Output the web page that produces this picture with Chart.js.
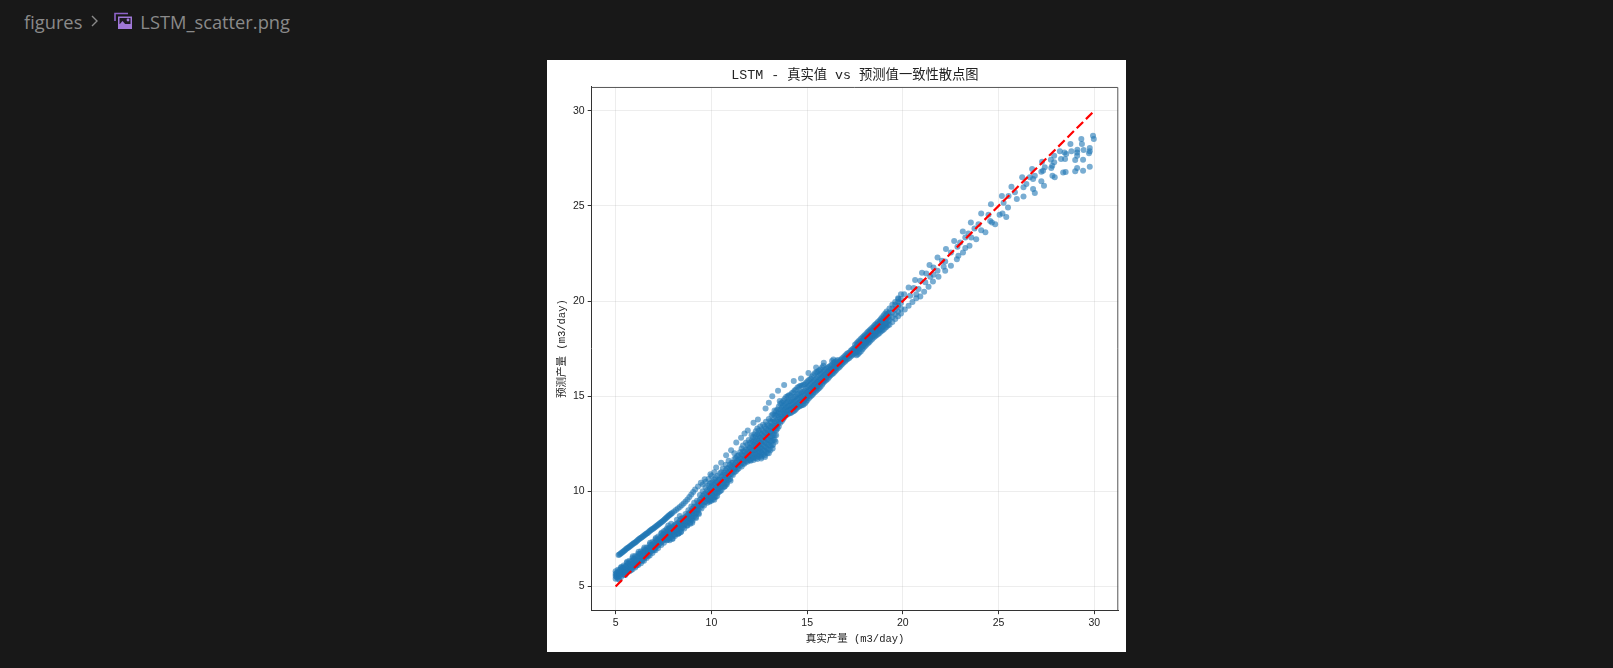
<!DOCTYPE html>
<html>
<head>
<meta charset="utf-8">
<title>LSTM_scatter.png</title>
<script src="https://cdn.jsdelivr.net/npm/chart.js@4"></script>
<style>
    html, body { margin: 0; height: 100%; background: #181818; overflow: hidden; }
    .crumbs { position: absolute; left: 24px; top: 8px; height: 26px; display: flex; align-items: center;
        color: #8a8a8a; font: 18.3px "Open Sans", sans-serif; white-space: nowrap; }
    .crumbs svg { display: block; }
    .sheet { position: absolute; left: 547px; top: 60px; width: 579px; height: 592px; background: #fff; }
</style>
</head>
<body>
<div class="crumbs">
    <span>figures</span>
    <svg width="10" height="14" viewBox="0 0 10 14" style="margin:0 14px 0 8px"><path d="M2 2l5 5-5 5" fill="none" stroke="#8a8a8a" stroke-width="1.4"/></svg>
    <svg width="19" height="18" viewBox="0 0 19 18" style="margin-right:7px">
        <path d="M1 9V1.5h13" fill="none" stroke="#8e63c9" stroke-width="1.6"/>
        <rect x="4" y="4.5" width="14" height="12.5" fill="#a078d8"/>
        <rect x="5.5" y="6" width="11" height="6" fill="#1d1a22"/>
        <circle cx="14" cy="8" r="1.4" fill="#a078d8"/>
        <path d="M5 13l3.5-4 4 4.5z" fill="#a078d8"/>
    </svg>
    <span>LSTM_scatter.png</span>
</div>
<div class="sheet"><canvas id="scatterChart" width="579" height="592"></canvas></div>
<script>
const tickValues = [5, 10, 15, 20, 25, 30]
const idealLine = [5, 30]

// upper straight strand at the low end
const upperActual = [5.15,5.2,5.25,5.3,5.35,5.4,5.45,5.5,5.55,5.6,5.65,5.7,5.75,5.8,5.85,5.9,5.95,6,6.05,6.1,6.15,6.2,6.25,6.3,6.35,6.4,6.45,6.5,6.55,6.6,6.65,6.7,6.75,6.8,6.85,6.9,6.95,7,7.05,7.1,7.15,7.2,7.25,7.3,7.35,7.4,7.45,7.5,7.55,7.6,7.65,7.7,7.75,7.8,7.85,7.9,7.95,8.05,8.15,8.25,8.35,8.45,8.55,8.65,8.75,8.85,8.95,9.05,9.15,9.3,9.45]
const upperPredicted = [6.65,6.68,6.72,6.76,6.8,6.84,6.88,6.92,6.96,7,7.03,7.07,7.11,7.15,7.19,7.23,7.27,7.3,7.34,7.38,7.42,7.46,7.5,7.54,7.57,7.61,7.65,7.69,7.73,7.77,7.8,7.84,7.88,7.92,7.96,8,8.03,8.07,8.11,8.15,8.19,8.23,8.27,8.31,8.35,8.39,8.43,8.47,8.52,8.56,8.61,8.65,8.7,8.74,8.78,8.82,8.86,8.94,9.02,9.1,9.18,9.27,9.36,9.46,9.57,9.7,9.83,9.96,10.1,10.25,10.45]

// arc above the main mass
const arcActual = [9.65,9.95,10.25,10.51,10.77,11.03,11.3,11.55,11.73,11.9,12.2,12.43,12.83,13.0,13.18,13.48,13.57,13.8,14.3,14.68,15.07,15.47,15.87,16.37]
const arcPredicted = [10.63,10.9,11.25,11.5,11.9,12.16,12.56,12.82,13.04,13.2,13.6,13.77,14.35,14.65,15,15.28,14.75,15.58,15.79,15.93,16.22,16.5,16.75,16.92]

// edges of the low band and the round lobes under the ideal line
const edgeActual = [5.2,5.3,5.5,5.6,5.8,5.9,6.1,6.2,6.4,6.5,6.7,6.8,7,7.1,7.4,7.7,7.8,7.95,8.1,8.25,8.3,8.4,8.75,8.9,9,9.2,9.35,9.9,10,10.15,10.3,10.7,10.8,11,12.05,12.2,12.4,12.6,12.8,13,13.2,13.35]
const edgePredicted = [5.35,6.02,5.6,6.3,5.85,6.58,6.1,6.82,6.35,7.05,6.6,7.3,6.9,7.55,7.82,7.45,7.5,7.5,7.65,7.75,7.8,7.85,8.2,8.3,8.35,8.6,8.8,9.45,9.5,9.55,9.75,10.25,10.35,10.55,11.6,11.65,11.7,11.72,11.8,12,12.25,12.6]

// dense band, one column of predictions per actual value
const bandActual = [5.05,5.2,5.35,5.5,5.65,5.8,5.95,6.1,6.25,6.4,6.55,6.7,6.85,7.0,7.15,7.3,7.45,
    7.6,7.75,7.9,8.05,8.2,8.35,8.5,8.65,8.8,8.95,9.1,9.25,9.4,
    9.55,9.7,9.85,10.0,10.15,10.3,10.45,10.6,10.75,10.9,11.05,11.2,11.35,11.5,11.65,11.8,11.95,
    12.1,12.25,12.4,12.55,12.7,12.85,13.0,13.15,13.3,13.45,13.6,13.75,13.9,14.05,14.2,14.35,14.5,14.65,14.8,14.95,
    15.1,15.25,15.4,15.55,15.7,15.85,16.0,16.15,16.3,16.45,16.6,16.75,16.9,17.05,17.2,17.35,17.5,17.65,17.8,17.95,
    18.1,18.25,18.4,18.55,18.7,18.85,19.0,19.15,19.3,19.45,19.6,19.75,19.9]
const bandPredicted = [
    [5.5,5.6,5.7],[5.55,5.7,5.85],[5.65,5.8,5.95],[5.75,5.9,6.05],[5.85,6,6.2],[5.95,6.1,6.3],[6.05,6.25,6.45],[6.15,6.35,6.55],[6.3,6.5,6.7],
    [6.42,6.6,6.8],[6.55,6.72,6.9],[6.7,6.85,7.02],[6.85,7,7.15],[6.98,7.1,7.28],[7.12,7.25,7.42],[7.25,7.4,7.55],[7.4,7.55,7.7],
    [7.5,7.65,7.8,7.95],[7.55,7.7,7.85,8,8.2],[7.6,7.75,7.9,8.05,8.3],[7.72,7.88,8.05,8.2],[7.95,8.1,8.3,8.5],[7.95,8.1,8.25,8.45,8.7],
    [8.1,8.25,8.45,8.6],[8.3,8.45,8.65,8.8],[8.45,8.6,8.8,9],[8.5,8.65,8.8,8.95,9.2],[8.7,8.85,9,9.2,9.4],[8.9,9.05,9.25,9.5],[9.15,9.35,9.55,9.8],
    [9.3,9.5,9.75,10,10.35],[9.45,9.65,9.9,10.2,10.5],[9.55,9.75,10,10.3,10.65],[9.65,9.85,10.05,10.25,10.45,10.8],[9.7,9.9,10.1,10.35,10.6,11],
    [9.9,10.1,10.3,10.5,10.8],[10,10.2,10.4,10.65,10.95],[10.2,10.4,10.6,10.85,11.2],[10.4,10.6,10.85,11.1,11.4],[10.6,10.8,11,11.25,11.6],
    [10.9,11.1,11.3,11.5],[11,11.2,11.4,11.7,12],[11.15,11.35,11.6,11.85],[11.35,11.55,11.75,12.05],[11.45,11.65,11.85,12.1,12.4],
    [11.55,11.75,11.95,12.2,12.55],[11.65,11.85,12.05,12.3,12.7],[11.75,11.95,12.15,12.4,12.65,12.95],[11.8,12,12.2,12.45,12.7,13],
    [11.85,12.05,12.25,12.5,12.75,13,13.3],[11.9,12.1,12.3,12.55,12.8,13.05,13.4],[11.95,12.15,12.4,12.65,12.9,13.15,13.5],
    [12.05,12.3,12.55,12.8,13.05,13.3,13.65],[12.2,12.45,12.7,12.95,13.2,13.45,13.8],[12.4,12.65,12.9,13.15,13.4,13.65,14],
    [12.7,12.95,13.2,13.45,13.7,14,14.25],[13.3,13.5,13.75,14,14.3],[13.6,13.8,14.05,14.3,14.6],[13.8,14,14.25,14.5,14.75],[14,14.2,14.4,14.65,14.95],
    [14.1,14.3,14.5,14.75,15.05],[14.15,14.35,14.55,14.8,15.15],[14.25,14.45,14.7,14.95,15.3],[14.4,14.6,14.85,15.1,15.45],[14.5,14.7,14.95,15.2,15.55],
    [14.55,14.75,15,15.25,15.6],[14.7,14.9,15.15,15.4,15.7],[14.9,15.1,15.3,15.55,15.85],[15.05,15.25,15.45,15.7,16],[15.2,15.4,15.6,15.85,16.2],
    [15.35,15.55,15.75,16,16.3],[15.5,15.7,15.9,16.15,16.4],[15.7,15.85,16.05,16.3,16.6],[15.85,16,16.2,16.45],[16,16.15,16.35,16.55],
    [16.15,16.3,16.45,16.65,16.85],[16.3,16.45,16.6,16.8],[16.45,16.6,16.75,16.9],[16.6,16.75,16.9],[16.75,16.9,17.05],[16.9,17.05,17.2],[17,17.15,17.3],
    [17.15,17.3,17.45],[17.25,17.4,17.55,17.7],[17.2,17.4,17.55,17.7,17.85],[17.35,17.55,17.7,17.85,18],[17.55,17.7,17.85,18,18.15],
    [17.7,17.85,18,18.15,18.3],[17.85,18,18.15,18.3,18.45],[18,18.15,18.3,18.45,18.6],[18.15,18.3,18.45,18.6,18.75],[18.25,18.45,18.6,18.75,18.9],
    [18.4,18.55,18.7,18.9,19.05],[18.5,18.7,18.9,19.05,19.25],[18.65,18.85,19.05,19.25,19.45],[18.75,19,19.2,19.4,19.6],[18.9,19.15,19.4,19.6,19.8],
    [19.05,19.3,19.55,19.8,19.95],[19.2,19.45,19.75,19.95,20.15],[19.35,19.6,19.9,20.1,20.35]
]

// second pass over the same band, between the columns above
const coreActual = [5,5.12,5.28,5.42,5.58,5.72,5.88,6.02,6.18,6.32,6.48,6.62,6.78,6.92,7.08,7.22,7.38,7.52,7.68,7.82,7.98,
    8.12,8.28,8.42,8.58,8.72,8.88,9.02,9.18,9.32,9.48,9.62,9.78,9.92,10.08,10.22,10.38,10.52,10.68,10.82,10.98,
    11.12,11.28,11.42,11.58,11.72,11.88,12.02,12.18,12.32,12.48,12.62,12.78,12.92,13.08,13.22,13.38,13.52,13.68,13.82,13.98,
    14.12,14.28,14.42,14.58,14.72,14.88,15.02,15.18,15.32,15.48,15.62,15.78,15.92,16.08,16.22,16.38,16.52,16.68,16.82,16.98,
    17.12,17.28,17.42,17.58,17.72,17.88,18.02,18.18,18.32,18.48,18.62,18.78,18.92,19.08,19.22]
const corePredicted = [
    [5.4,5.55,5.65,5.8],[5.4,5.5,5.62,5.75,5.88],[5.5,5.62,5.75,5.9,6],[5.6,5.72,5.85,6,6.1],[5.7,5.82,5.95,6.1,6.25],[5.8,5.92,6.05,6.2,6.35],
    [5.9,6.02,6.17,6.35,6.5],[6,6.15,6.3,6.45,6.6],[6.12,6.25,6.42,6.6,6.72],[6.22,6.38,6.55,6.72,6.85],[6.35,6.5,6.67,6.82,6.95],[6.5,6.63,6.78,6.92,7.05],
    [6.62,6.77,6.92,7.05,7.2],[6.75,6.9,7.05,7.2,7.33],[6.9,7.03,7.18,7.33,7.48],[7.02,7.17,7.32,7.47,7.62],[7.18,7.32,7.47,7.62,7.77],[7.3,7.45,7.6,7.75,7.9],
    [7.42,7.55,7.72,7.88,8.05],[7.42,7.6,7.78,7.92,8.1],[7.5,7.68,7.85,8,8.12],[7.75,7.92,8.1,8.25],[7.8,8,8.18,8.35],[7.88,8.05,8.2,8.35,8.55],
    [8.05,8.2,8.38,8.55],[8.2,8.38,8.55,8.72],[8.35,8.52,8.7,8.88],[8.45,8.6,8.78,8.95,9.1],[8.65,8.82,9,9.18],[8.85,9.02,9.2,9.4],[9.1,9.28,9.45,9.65],
    [9.25,9.42,9.62,9.85],[9.4,9.6,9.8,10.05],[9.5,9.7,9.9,10.15,10.4],[9.58,9.78,9.98,10.2,10.5],[9.7,9.95,10.2,10.45,10.7],[9.95,10.15,10.35,10.6],
    [10.05,10.25,10.5,10.75,11],[10.25,10.5,10.72,10.98],[10.45,10.7,10.95,11.2],[10.65,10.9,11.15,11.4],[10.85,11.05,11.25,11.5],[11.05,11.25,11.5,11.75],
    [11.2,11.4,11.65,11.9],[11.3,11.5,11.7,11.95,12.25],[11.45,11.65,11.85,12.1],[11.55,11.75,11.95,12.2,12.45],[11.65,11.85,12.05,12.3,12.55],
    [11.72,11.92,12.12,12.35,12.6,12.85],[11.75,11.95,12.15,12.38,12.62,12.88,13.15],[11.8,12,12.2,12.42,12.65,12.9,13.2],[11.82,12.02,12.25,12.48,12.72,12.98,13.25],
    [11.9,12.12,12.35,12.6,12.85,13.1,13.4],[12,12.22,12.48,12.72,12.98,13.22,13.5],[12.15,12.4,12.65,12.9,13.15,13.4,13.7],[12.45,12.7,12.95,13.2,13.45,13.75,14.05],
    [12.95,13.2,13.45,13.7,14,14.2],[13.4,13.65,13.9,14.15,14.45],[13.7,13.9,14.15,14.4,14.65],[13.9,14.1,14.3,14.55,14.85],[14.05,14.25,14.45,14.7,15],
    [14.1,14.3,14.5,14.75,15.05],[14.2,14.4,14.62,14.88,15.2],[14.32,14.52,14.75,15,15.35],[14.45,14.65,14.9,15.15,15.5],[14.52,14.72,14.95,15.22,15.55],
    [14.62,14.82,15.05,15.3,15.62],[14.8,15,15.22,15.48,15.78],[14.98,15.18,15.38,15.62,15.92],[15.12,15.32,15.52,15.78,16.1],[15.28,15.48,15.68,15.92,16.25],
    [15.42,15.62,15.82,16.08,16.35],[15.6,15.78,15.98,16.22,16.5],[15.78,15.92,16.12,16.38],[15.92,16.08,16.28,16.5],[16.08,16.22,16.4,16.6],[16.22,16.38,16.55,16.75],
    [16.38,16.52,16.68,16.85],[16.52,16.68,16.82],[16.68,16.82,16.98],[16.82,16.98,17.12],[16.95,17.1,17.25],[17.08,17.22,17.38],[17.2,17.35,17.5],
    [17.15,17.32,17.48,17.62,17.78],[17.28,17.48,17.62,17.78,17.92],[17.45,17.62,17.78,17.92,18.08],[17.62,17.78,17.92,18.08,18.22],[17.78,17.92,18.08,18.22,18.38],
    [17.92,18.08,18.22,18.38,18.52],[18.08,18.22,18.38,18.52,18.68],[18.2,18.38,18.52,18.68,18.82],[18.32,18.5,18.65,18.82,18.98],[18.45,18.62,18.8,18.98,19.15],
    [18.6,18.8,19,19.15,19.35],[18.72,18.95,19.15,19.35]
]

// scattered points from 20 upwards
const sparseActual = [20.1,20.3,20.5,20.7,19.77,20.07,20.3,20.38,20.56,20.64,20.7,20.82,20.91,20.91,21,21.11,21.17,21.22,21.34,21.39,21.43,21.57,21.6,21.6,21.81,21.81,21.86,22.04,22.13,22.21,22.21,22.25,22.51,22.51,22.68,22.82,22.85,22.9,22.99,23.13,23.14,23.26,23.26,23.42,23.48,23.55,23.57,23.74,23.83,23.95,24.09,24.09,24.31,24.47,24.56,24.6,24.65,24.82,25.05,25.17,25.2,25.26,25.4,25.49,25.52,
    25.67,25.85,25.95,26.23,26.3,26.3,26.45,26.63,26.75,26.8,26.8,26.89,26.89,27.23,27.23,27.27,27.32,27.37,27.41,27.73,27.75,27.8,27.81,27.9,27.9,27.93,28.2,28.26,28.37,28.44,28.47,28.5,28.53,28.75,28.8,29,29,29.1,29.1,29.1,29.11,29.32,29.35,29.41,29.41,29.44,29.72,29.76,29.76,29.76,29.93,29.97]
const sparsePredicted = [19.55,19.75,19.95,20.15,20.1,20.36,20.71,20.28,20.68,21.1,20.36,20.63,21.06,20.24,21.48,20.49,20.98,21.45,20.75,21.89,21.27,21.03,21.76,21.38,22.29,21.59,21.27,22.11,21.8,22.08,21.59,22.73,22.55,21.85,23.16,22.2,22.85,22.38,23.08,23.65,22.55,23.34,22.78,23.55,22.9,24.13,23.34,23.81,23.25,24.04,24.6,23.72,23.62,24.53,24.21,25.09,24.13,24.04,24.53,25.52,24.6,25.17,24.42,24.91,25.52,
    26.01,25.71,25.36,26.5,25.98,25.49,26.15,26.5,26.94,26.41,25.89,26.59,25.68,26.8,26.29,27.32,26.85,26.06,27.03,27.43,26.99,27.11,26.59,27.64,27.29,26.5,27.87,27.46,26.75,27.81,27.46,26.78,27.73,28.25,27.87,27.41,26.82,27.81,27.64,26.99,27.95,28.51,28.25,27.43,26.85,27.94,27.76,28.04,27.87,27.06,28.69,28.51]

const toPoints = (xs, ys) => xs.map((x, i) => ({x, y: ys[i]}))
const columnPoints = (xs, columns) => xs.flatMap((x, i) => columns[i].map(y => ({x, y})))

const dotStyle = {
    backgroundColor: 'rgba(31,119,180,0.6)',
    borderWidth: 0,
    pointRadius: 3,
    order: 2
}

// matplotlib draws all four spines, chart.js only the two axes
const frame = {
    id: 'frame',
    afterDraw(chart) {
        const {ctx, chartArea: a} = chart
        ctx.save()
        ctx.strokeStyle = '#555'
        ctx.lineWidth = 1
        ctx.beginPath()
        ctx.moveTo(a.left, a.top + 0.5)
        ctx.lineTo(a.right - 0.5, a.top + 0.5)
        ctx.lineTo(a.right - 0.5, a.bottom)
        ctx.stroke()
        ctx.restore()
    }
}

const monoFont = '"Liberation Mono", "Noto Sans CJK SC", monospace'
const axisOptions = (min, max, label, titlePadding, fit) => ({
    type: 'linear',
    min,
    max,
    afterBuildTicks: scale => { scale.ticks = tickValues.map(value => ({value})) },
    afterFit: fit,
    border: {color: '#333', width: 1},
    grid: {color: 'rgba(150,150,150,0.17)', lineWidth: 1, tickColor: '#333', tickLength: 4},
    ticks: {color: '#222', padding: 3, maxRotation: 0, font: {family: '"Liberation Sans", sans-serif', size: 10.5}},
    title: {display: true, text: label, color: '#222', padding: titlePadding, font: {family: monoFont, size: 10.5, lineHeight: 1.2}}
})

new Chart('scatterChart', {
    type: 'scatter',
    data: {
        datasets: [
            {data: toPoints(idealLine, idealLine), showLine: true, pointRadius: 0, borderColor: '#ff0000', borderWidth: 2.2, borderDash: [9, 4], order: 1},
            {data: toPoints(upperActual, upperPredicted), ...dotStyle},
            {data: toPoints(arcActual, arcPredicted), ...dotStyle},
            {data: toPoints(edgeActual, edgePredicted), ...dotStyle},
            {data: columnPoints(bandActual, bandPredicted), ...dotStyle},
            {data: columnPoints(coreActual, corePredicted), ...dotStyle},
            {data: toPoints(sparseActual, sparsePredicted), ...dotStyle}
        ]
    },
    options: {
        responsive: false,
        animation: false,
        layout: {padding: {left: 0, right: 7.7, top: 0, bottom: 0}},
        plugins: {
            legend: {display: false},
            tooltip: {enabled: false},
            title: {
                display: true,
                text: 'LSTM - 真实值 vs 预测值一致性散点图',
                color: '#222',
                fullSize: false,
                padding: {top: 7, bottom: 4},
                font: {family: monoFont, size: 13.3, weight: 'normal', lineHeight: 1.2}
            }
        },
        scales: {
            x: axisOptions(3.75, 31.25, '真实产量 (m3/day)', {top: 2, bottom: 6.7}, scale => { scale.height = 41.8 }),
            y: axisOptions(3.75, 31.25, '预测产量 (m3/day)', {top: 9, bottom: 2}, scale => { scale.width = 44.7 })
        }
    },
    plugins: [frame]
})
</script>
</body>
</html>
